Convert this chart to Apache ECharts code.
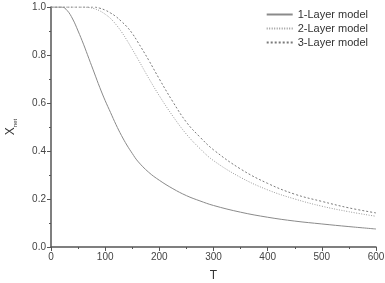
<!DOCTYPE html>
<html>
<head>
<meta charset="utf-8">
<script src="https://cdn.jsdelivr.net/npm/echarts@6/dist/echarts.min.js"></script>
<style>
  html, body { margin: 0; padding: 0; background: #fff; }
  #chart { width: 385px; height: 283px; }
</style>
</head>
<body>
<div id="chart"></div>
<script>
// values
var temps = [0, 20, 30, 40, 50, 60, 70, 80, 90, 100, 110, 120, 130, 140, 150, 160, 180, 200, 225, 250, 275, 300, 350, 400, 450, 500, 550, 600];
var layer1 = [1, 1, 0.985, 0.95, 0.9, 0.845, 0.785, 0.725, 0.665, 0.61, 0.56, 0.51, 0.465, 0.425, 0.39, 0.358, 0.312, 0.278, 0.243, 0.214, 0.192, 0.173, 0.145, 0.124, 0.108, 0.096, 0.085, 0.075];
var layer2 = [1, 1, 1, 1, 1, 1, 0.998, 0.993, 0.984, 0.97, 0.952, 0.927, 0.897, 0.862, 0.824, 0.785, 0.705, 0.63, 0.545, 0.47, 0.41, 0.36, 0.29, 0.238, 0.2, 0.17, 0.147, 0.128];
var layer3 = [1, 1, 1, 1, 1, 1, 1, 1, 0.995, 0.987, 0.975, 0.96, 0.94, 0.918, 0.89, 0.855, 0.78, 0.7, 0.605, 0.52, 0.458, 0.405, 0.325, 0.265, 0.22, 0.19, 0.163, 0.142];
var names = ['1-Layer model', '2-Layer model', '3-Layer model'];

function pairs(ys) {
	return temps.map(function(t, i) { return [t, ys[i]]; });
}

var myChart = echarts.init(document.getElementById('chart'));
var axisColor = '#555';
option = {
	animation: false,
	grid: { left: 51, right: 9, top: 7, bottom: 36, outerBoundsMode: 'none', containLabel: false },
	legend: {
		right: 12,
		top: 4,
		orient: 'vertical',
		itemWidth: 26,
		itemHeight: 8,
		itemGap: 3,
		itemStyle: { opacity: 0 },
		textStyle: { fontFamily: 'Liberation Sans', fontSize: 11, color: '#333' },
		data: names
	},
	xAxis: {
		type: 'value',
		min: 0,
		max: 600,
		interval: 100,
		name: 'T',
		nameLocation: 'middle',
		nameGap: 23,
		nameTextStyle: { fontFamily: 'Liberation Sans', fontSize: 12, color: '#333' },
		splitLine: { show: false },
		axisLine: { lineStyle: { color: axisColor, width: 1.5 } },
		axisTick: { length: 4, lineStyle: { color: axisColor } },
		minorTick: { show: true, splitNumber: 2, length: 2, lineStyle: { color: axisColor } },
		axisLabel: { fontFamily: 'Liberation Sans', fontSize: 10, color: '#444', margin: 5 }
	},
	yAxis: {
		type: 'value',
		min: 0,
		max: 1,
		interval: 0.2,
		name: '{a|X}{b|net}',
		nameLocation: 'middle',
		nameGap: 33,
		nameRotate: 90,
		nameTextStyle: {
			rich: {
				a: { fontFamily: 'Liberation Sans', fontSize: 12, color: '#333' },
				b: { fontFamily: 'Liberation Sans', fontSize: 6, color: '#333', padding: [8, 0, 0, 0] }
			}
		},
		splitLine: { show: false },
		axisLine: { lineStyle: { color: axisColor, width: 1.5 } },
		axisTick: { length: 4, lineStyle: { color: axisColor } },
		minorTick: { show: true, splitNumber: 2, length: 2, lineStyle: { color: axisColor } },
		axisLabel: {
			fontFamily: 'Liberation Sans', fontSize: 10, color: '#444', margin: 5,
			formatter: function(v) { return v.toFixed(1); }
		}
	},
	series: [{
		name: names[0],
		type: 'line',
		smooth: 0.4,
		symbol: 'none',
		data: pairs(layer1),
		lineStyle: { color: '#8a8a8a', width: 1, type: 'solid' },
		itemStyle: { color: '#8a8a8a' }
	}, {
		name: names[1],
		type: 'line',
		smooth: 0.4,
		symbol: 'none',
		data: pairs(layer2),
		lineStyle: { color: '#9a9a9a', width: 1, type: [1, 1.5] },
		itemStyle: { color: '#9a9a9a' }
	}, {
		name: names[2],
		type: 'line',
		smooth: 0.4,
		symbol: 'none',
		data: pairs(layer3),
		lineStyle: { color: '#7a7a7a', width: 1, type: [2, 2] },
		itemStyle: { color: '#7a7a7a' }
	}]
};
myChart.setOption(option);
</script>
</body>
</html>
